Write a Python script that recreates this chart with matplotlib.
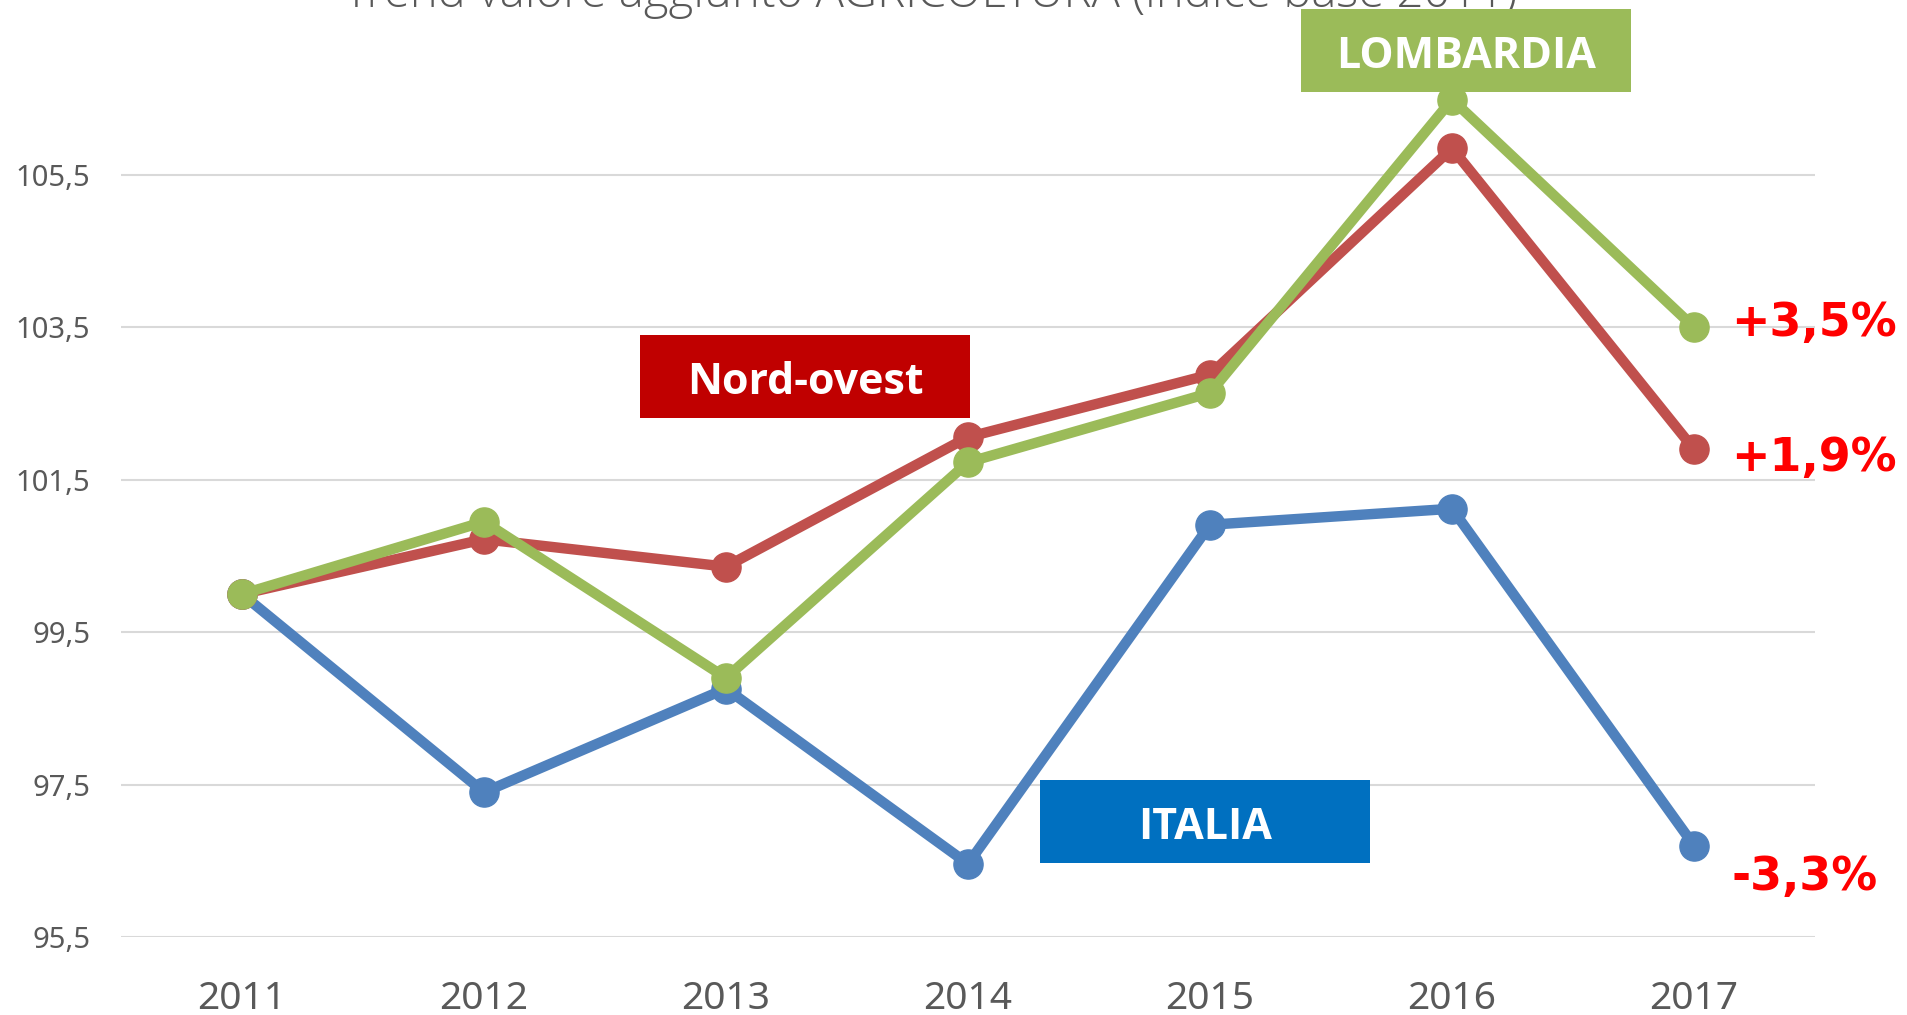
import matplotlib
matplotlib.use("Agg")
import matplotlib.pyplot as plt
from matplotlib.patches import Rectangle

# data (indice base 2011 = 100)
years = [2011, 2012, 2013, 2014, 2015, 2016, 2017]
italia = [100.0, 97.4, 98.76, 96.46, 100.91, 101.12, 96.7]
nord_ovest = [100.0, 100.72, 100.36, 102.06, 102.88, 105.85, 101.9]
lombardia = [100.0, 100.95, 98.9, 101.73, 102.64, 106.49, 103.5]
yticks = [95.5, 97.5, 99.5, 101.5, 103.5, 105.5]
ytick_labels = ["95,5", "97,5", "99,5", "101,5", "103,5", "105,5"]
pct_labels = ["-3,3%", "+1,9%", "+3,5%"]

c_it = "#4F81BD"
c_no = "#C0504D"
c_lo = "#9BBB59"
grey = "#595959"

fig = plt.figure(figsize=(19.08, 10.15), dpi=100)
ax = fig.add_axes([0.0634, 0.0768, 0.8879, 0.901])

for vals, col in [(italia, c_it), (nord_ovest, c_no), (lombardia, c_lo)]:
    ax.plot(years, vals, color=col, lw=7.5, marker="o", markersize=21,
            solid_capstyle="round", zorder=3)

ax.set_xlim(2010.5, 2017.5)
ax.set_ylim(95.5, 107.5)
ax.set_yticks(yticks)
ax.set_yticklabels(ytick_labels)
ax.set_xticks(years)
ax.set_xticklabels([str(y) for y in years])
ax.grid(axis="y", color="#D9D9D9", lw=1.5)
ax.set_axisbelow(True)
for s in ax.spines.values():
    s.set_visible(False)
ax.tick_params(axis="both", length=0, colors=grey)
ax.tick_params(axis="y", pad=22, labelsize=21)
ax.tick_params(axis="x", pad=31, labelsize=28)
for lab in ax.get_xticklabels() + ax.get_yticklabels():
    lab.set_family("Noto Sans")

# percentage labels at the end of each series
offsets = [(37, -32), (37, -9), (37, 4)]
for vals, txt, off in zip([italia, nord_ovest, lombardia], pct_labels, offsets):
    ax.annotate(txt, xy=(years[-1], vals[-1]), xytext=off,
                textcoords="offset pixels", ha="left", va="center",
                color="#FF0000", fontsize=33, fontweight="bold",
                family="DejaVu Sans")

# name boxes
boxes = [("LOMBARDIA", c_lo, 0.6819, 0.9094),
         ("Nord-ovest", "#C00000", 0.3354, 0.5882),
         ("ITALIA", "#0070C0", 0.5451, 0.1498)]
for name, col, x0, y0 in boxes:
    fig.patches.append(Rectangle((x0, y0), 0.173, 0.0815, transform=fig.transFigure,
                                 facecolor=col, edgecolor="none", zorder=5))
    fig.text(x0 + 0.0865, y0 + 0.035, name, ha="center", va="center",
             color="white", fontsize=31, fontweight="bold", family="Open Sans",
             zorder=6)

fig.text(0.488, 0.993, "Trend valore aggiunto AGRICOLTURA (indice base 2011)",
         ha="center", va="baseline", color=grey, fontsize=34,
         family="Open Sans", fontweight="light")

fig.savefig("out.png", dpi=100)
